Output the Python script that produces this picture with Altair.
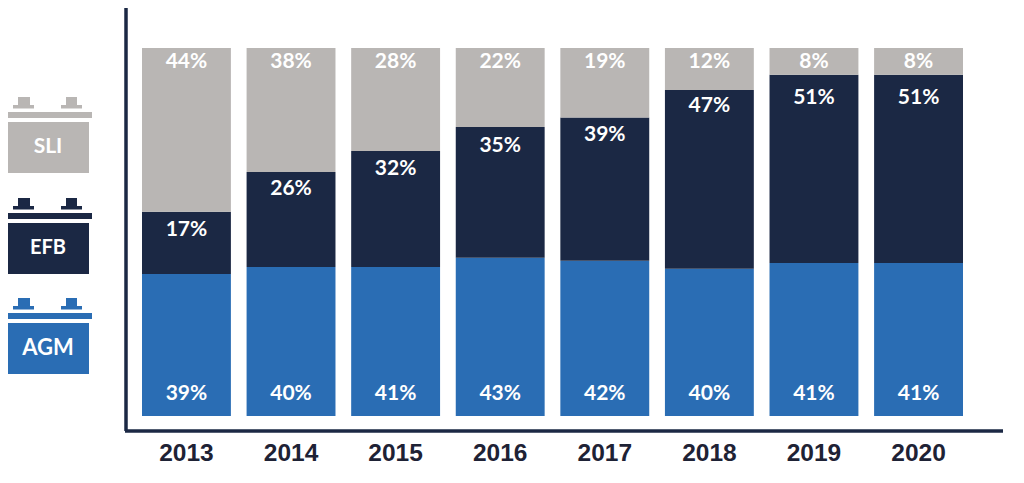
import altair as alt
import pandas as pd

years = ["2013", "2014", "2015", "2016", "2017", "2018", "2019", "2020"]
agm_labels = [39, 40, 41, 43, 42, 40, 41, 41]
efb_labels = [17, 26, 32, 35, 39, 47, 51, 51]
sli_labels = [44, 38, 28, 22, 19, 12, 8, 8]
# drawn heights (the printed labels do not always add up to 100)
agm_drawn = [38.6, 40.5, 40.5, 43.0, 42.2, 40.0, 41.6, 41.6]
efb_drawn = [16.9, 25.8, 31.5, 35.5, 38.9, 48.6, 51.1, 51.1]
efb_label_at = [50.6, 61.8, 67.2, 73.4, 76.4, 84.3, 86.5, 86.5]

GREY = "#b9b6b4"
NAVY = "#1b2844"
BLUE = "#2a6db4"
INK = "#1e2235"
FONT = "Lato"

df = pd.DataFrame({"year": years, "agm": agm_drawn, "efb": efb_drawn,
                   "agm_l": agm_labels, "efb_l": efb_labels, "sli_l": sli_labels,
                   "efb_at": efb_label_at})
df["efb_top"] = df.agm + df.efb
df["top"] = 100
df["zero"] = 0
for c in ["agm_l", "efb_l", "sli_l"]:
    df[c] = df[c].astype(str) + "%"

xs = alt.Scale(domain=years, range=[134, 955], paddingInner=0.15, paddingOuter=0)
ys = alt.Scale(domain=[0, 100], range=[408, 40], nice=False)
X = alt.X("year:N", scale=xs, sort=None, title=None,
          axis=alt.Axis(labelAngle=0, domain=False, ticks=False, labelFont="Liberation Sans",
                        labelFontSize=24.5, labelFontWeight="bold", labelColor=INK, labelPadding=10,
                        grid=False))
base = alt.Chart(df)


def bar(lo, hi, color):
    return base.mark_bar(color=color).encode(
        x=X, y=alt.Y(f"{lo}:Q", scale=ys, axis=None, title=None), y2=alt.Y2(f"{hi}:Q"))


def lab(anchor, field, dy):
    return base.mark_text(color="white", font=FONT, fontSize=21, fontWeight="bold", dy=dy).encode(
        x=X,
        y=alt.Y(f"{anchor}:Q", scale=ys, axis=None, title=None),
        text=f"{field}:N")


one = alt.Data(values=[{}])


def rect(x0, x1, y0, y1, color):
    return alt.Chart(one).mark_rect(color=color).encode(
        x=alt.value(x0 - 8), x2=alt.value(x1 - 8), y=alt.value(y0 - 8), y2=alt.value(y1 - 8))


def icon(dy, color, name, size):
    return [
        rect(4, 92, 112 + dy, 118 + dy, color),
        rect(7.5, 89, 122 + dy, 173 + dy, color),
        rect(13, 34, 105 + dy, 108.5 + dy, color),
        rect(18, 30, 97 + dy, 105 + dy, color),
        rect(61, 82, 105 + dy, 108.5 + dy, color),
        rect(66, 77, 97 + dy, 105 + dy, color),
        alt.Chart(one).mark_text(color="white", font=FONT, fontSize=size, fontWeight="bold").encode(
            x=alt.value(48 - 8), y=alt.value(147 + dy - 8), text=alt.value(name)),
    ]


line_v = alt.Chart(one).mark_rule(color=NAVY, strokeWidth=3.5).encode(
    x=alt.value(118), y=alt.value(0), y2=alt.value(423))
line_h = alt.Chart(one).mark_rule(color=NAVY, strokeWidth=3.5).encode(
    x=alt.value(117), x2=alt.value(995), y=alt.value(423))

layers = [
    bar("zero", "agm", BLUE),
    bar("agm", "efb_top", NAVY),
    bar("efb_top", "top", GREY),
    lab("zero", "agm_l", -22),
    lab("efb_at", "efb_l", 0),
    lab("top", "sli_l", 14),
    line_v, line_h,
] + icon(0, GREY, "SLI", 21) + icon(101, NAVY, "EFB", 20) + icon(201, BLUE, "AGM", 22)

chart = alt.layer(*layers).properties(
    width=1008, height=423,
    padding={"left": 0, "top": 0, "right": 0, "bottom": 44},
    autosize=alt.AutoSizeParams(type="none"),
).configure_view(stroke=None)

chart.save("out.html", embed_options={"renderer": "svg", "actions": False})
